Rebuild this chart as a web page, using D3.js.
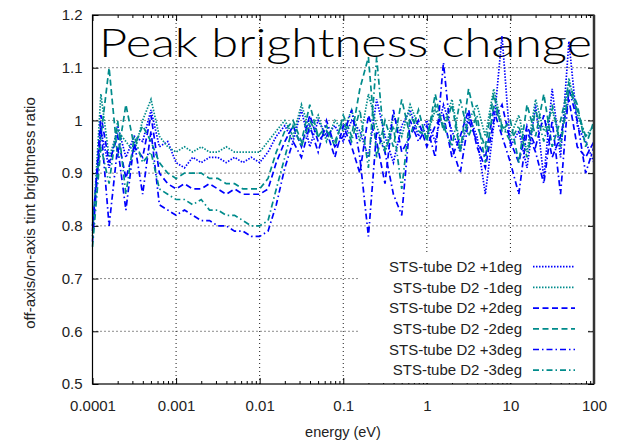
<!DOCTYPE html>
<html>
<head>
<meta charset="utf-8">
<script src="https://cdn.jsdelivr.net/npm/d3@7"></script>
<style>
  body { margin: 0; background: #fff; }
  svg { display: block; }
  text { font-family: "Liberation Sans", Arial, sans-serif; fill: #222; }
</style>
</head>
<body>
<script>
// energy grid (eV), 10 points per decade
var energy = [
  1.00e-4, 1.26e-4, 1.58e-4, 2.00e-4, 2.51e-4, 3.16e-4, 3.98e-4, 5.01e-4, 6.31e-4, 7.94e-4,
  1.00e-3, 1.26e-3, 1.58e-3, 2.00e-3, 2.51e-3, 3.16e-3, 3.98e-3, 5.01e-3, 6.31e-3, 7.94e-3,
  1.00e-2, 1.26e-2, 1.58e-2, 2.00e-2, 2.51e-2, 3.16e-2, 3.98e-2, 5.01e-2, 6.31e-2, 7.94e-2,
  1.00e-1, 1.26e-1, 1.58e-1, 2.00e-1, 2.51e-1, 3.16e-1, 3.98e-1, 5.01e-1, 6.31e-1, 7.94e-1,
  1.00, 1.26, 1.58, 2.00, 2.51, 3.16, 3.98, 5.01, 6.31, 7.94,
  10.0, 12.6, 15.8, 20.0, 25.1, 31.6, 39.8, 50.1, 63.1, 79.4,
  100
];

var plus1 = [
  0.80, 0.98, 0.91, 0.99, 0.93, 0.97, 0.96, 1.02, 0.95, 0.96,
  0.92, 0.91, 0.93, 0.92, 0.93, 0.93, 0.92, 0.93, 0.92, 0.93,
  0.92, 0.94, 0.97, 0.99, 0.96, 1.02, 0.95, 1.00, 0.97, 0.99,
  0.96, 1.00, 0.98, 0.93, 1.04, 0.97, 0.92, 0.99, 1.02, 0.97,
  1.00, 0.96, 1.03, 0.98, 0.94, 1.01, 0.97, 0.86, 0.99, 1.16,
  0.95, 0.98, 0.91, 1.03, 0.89, 1.06, 0.93, 1.15, 0.99, 0.96,
  0.92
];
var minus1 = [
  0.78, 1.05, 0.93, 0.98, 0.96, 0.94, 1.00, 1.04, 0.97, 0.95,
  0.94, 0.95, 0.94, 0.95, 0.94, 0.94, 0.95, 0.94, 0.94, 0.94,
  0.94, 0.96, 0.98, 1.00, 0.97, 1.03, 0.98, 1.01, 0.96, 1.00,
  0.98, 1.02, 0.96, 1.05, 0.99, 0.94, 1.01, 0.97, 1.03, 0.99,
  0.97, 1.02, 0.99, 1.04, 0.95, 1.00, 1.03, 0.97, 1.06, 0.99,
  0.97, 1.01, 0.94, 1.04, 0.98, 1.02, 0.96, 1.08, 1.01, 0.97,
  0.99
];
var plus2 = [
  0.79, 1.01, 0.92, 0.97, 0.89, 0.95, 0.93, 1.01, 0.90, 0.88,
  0.87, 0.88, 0.87, 0.87, 0.88, 0.87, 0.86, 0.87, 0.86, 0.86,
  0.86, 0.87, 0.92, 0.96, 0.99, 0.95, 1.01, 0.96, 0.98, 0.93,
  0.99, 0.95, 0.90, 1.01, 0.96, 0.88, 1.02, 0.94, 0.97, 1.00,
  0.95, 0.99, 1.01, 0.93, 0.97, 1.02, 0.95, 0.91, 1.00, 1.03,
  0.96, 0.92, 0.99, 0.95, 1.01, 0.93, 0.97, 1.04, 0.95, 0.93,
  0.96
];
var minus2 = [
  0.80, 0.97, 1.10, 0.93, 1.03, 0.95, 0.99, 0.96, 0.92, 0.90,
  0.89, 0.90, 0.90, 0.90, 0.89, 0.89, 0.88, 0.88, 0.87, 0.87,
  0.87, 0.89, 0.94, 0.98, 1.00, 0.96, 1.03, 0.97, 0.99, 0.95,
  1.01, 0.97, 1.06, 1.12, 0.93, 1.00, 0.95, 1.04, 0.97, 1.02,
  0.96, 1.05, 0.98, 1.03, 0.94, 1.06, 0.99, 0.95, 1.05, 0.98,
  1.00, 0.92, 1.03, 0.97, 1.05, 0.95, 1.00, 1.07, 1.03, 0.95,
  1.00
];
var plus3 = [
  0.77, 0.99, 0.80, 0.95, 0.83, 0.96, 0.86, 0.98, 0.84, 0.83,
  0.82, 0.83, 0.82, 0.81, 0.81, 0.80, 0.80, 0.79, 0.79, 0.78,
  0.78, 0.79, 0.84, 0.91, 0.96, 0.93, 0.99, 0.94, 1.00, 0.95,
  0.97, 1.02, 0.93, 0.78, 0.98, 0.94, 0.86, 0.82, 1.00, 0.96,
  0.99, 0.93, 1.11, 0.95, 0.90, 1.00, 0.96, 0.93, 1.02, 0.97,
  0.92, 0.86, 0.98, 0.94, 0.88, 1.00, 0.86, 1.06, 1.00, 0.90,
  0.95
];
var minus3 = [
  0.76, 0.95, 0.88, 1.00, 0.86, 0.97, 0.92, 0.94, 0.87, 0.86,
  0.85, 0.85, 0.84, 0.85, 0.83, 0.83, 0.82, 0.82, 0.81, 0.80,
  0.80, 0.81, 0.87, 0.93, 0.99, 0.95, 1.00, 0.97, 0.98, 0.96,
  1.00, 0.96, 1.02, 0.91, 1.12, 0.94, 0.99, 0.87, 1.01, 0.98,
  0.97, 1.03, 0.99, 0.95, 1.04, 0.97, 1.01, 0.92, 1.03, 0.99,
  0.96, 0.99, 0.93, 1.02, 0.96, 1.03, 0.95, 1.06, 1.02, 0.97,
  0.98
];

var seriesNames = ["STS-tube D2 +1deg", "STS-tube D2 -1deg", "STS-tube D2 +2deg",
                   "STS-tube D2 -2deg", "STS-tube D2 +3deg", "STS-tube D2 -3deg"];
var seriesValues = [plus1, minus1, plus2, minus2, plus3, minus3];

var xTicks = [1e-4, 1e-3, 1e-2, 1e-1, 1, 10, 100];
var xTickLabels = ["0.0001", "0.001", "0.01", "0.1", "1", "10", "100"];
var yTicks = [0.5, 0.6, 0.7, 0.8, 0.9, 1.0, 1.1, 1.2];
var yTickLabels = ["0.5", "0.6", "0.7", "0.8", "0.9", "1", "1.1", "1.2"];

var colors = ["#0000ff", "#008b8b", "#0000ff", "#008b8b", "#0000ff", "#008b8b"];
var dashes = ["1.5,1.5", "1.5,1.5", "6,3.5", "6,3.5", "6,3,1.5,3", "6,3,1.5,3"];

var W = 629, H = 441;
var pL = 92.5, pR = 594, pT = 15, pB = 384; // plot box

var svg = d3.select('body').append('svg')
    .attr('width', W)
    .attr('height', H);

var x = d3.scaleLog().domain([1e-4, 100]).range([pL, pR]);
var y = d3.scaleLinear().domain([0.5, 1.2]).range([pB, pT]);

// grid
var grid = svg.append('g').attr('class', 'grid')
    .attr('stroke', '#000')
    .attr('stroke-width', 0.9)
    .attr('stroke-dasharray', '1,3');
grid.selectAll('.gx').data(xTicks.slice(1, -1)).enter().append('line')
    .attr('x1', d => x(d)).attr('x2', d => x(d))
    .attr('y1', pT).attr('y2', pB);
grid.selectAll('.gy').data(yTicks.slice(1, -1)).enter().append('line')
    .attr('x1', pL).attr('x2', pR)
    .attr('y1', d => y(d)).attr('y2', d => y(d));

// axes
var minor = x.ticks().filter(t => xTicks.indexOf(t) < 0);

function styleAxis(g){
    g.select('.domain').remove();
    g.selectAll('line').attr('stroke', '#000');
    g.selectAll('text').attr('font-size', '15px').style('fill', '#222');
}

svg.append('g').attr('transform', 'translate(0,' + pB + ')')
    .call(d3.axisBottom(x).tickValues(xTicks).tickSize(-6).tickPadding(16)
        .tickFormat((d, i) => xTickLabels[i]))
    .call(styleAxis);
svg.append('g').attr('transform', 'translate(0,' + pB + ')')
    .call(d3.axisBottom(x).tickValues(minor).tickSize(-3).tickFormat(''))
    .call(styleAxis);
svg.append('g').attr('transform', 'translate(0,' + pT + ')')
    .call(d3.axisTop(x).tickValues(xTicks).tickSize(-6).tickFormat(''))
    .call(styleAxis);
svg.append('g').attr('transform', 'translate(0,' + pT + ')')
    .call(d3.axisTop(x).tickValues(minor).tickSize(-3).tickFormat(''))
    .call(styleAxis);
svg.append('g').attr('transform', 'translate(' + pL + ',0)')
    .call(d3.axisLeft(y).tickValues(yTicks).tickSize(-6).tickPadding(10)
        .tickFormat((d, i) => yTickLabels[i]))
    .call(styleAxis);
svg.append('g').attr('transform', 'translate(' + pR + ',0)')
    .call(d3.axisRight(y).tickValues(yTicks).tickSize(-6).tickFormat(''))
    .call(styleAxis);

// title inside the plot (font set with style so the css rule does not win)
svg.append('text')
    .attr('x', 99)
    .attr('y', 57)
    .attr('textLength', 493)
    .attr('lengthAdjust', 'spacingAndGlyphs')
    .style('font-family', 'Lato, "Open Sans", sans-serif')
    .style('font-weight', 300)
    .style('font-size', '40px')
    .style('fill', '#000')
    .text('Peak brightness change');

// data lines
var line = d3.line()
    .x((d, i) => x(energy[i]))
    .y(d => y(d));

svg.append('g').attr('class', 'lines')
    .selectAll('path')
    .data(seriesValues)
    .enter()
    .append('path')
    .attr('d', d => line(d))
    .attr('fill', 'none')
    .attr('stroke', (d, i) => colors[i])
    .attr('stroke-width', 1.7)
    .attr('stroke-dasharray', (d, i) => dashes[i]);

// opaque legend
svg.append('rect')
    .attr('x', 360).attr('y', 252)
    .attr('width', 226).attr('height', 131)
    .attr('fill', '#fff');

var legend = svg.append('g').attr('class', 'legend')
    .selectAll('g')
    .data(seriesNames)
    .enter()
    .append('g')
    .attr('transform', (d, i) => 'translate(0,' + (266.7 + i * 20.7) + ')');
legend.append('text')
    .attr('x', 522)
    .attr('dy', '0.35em')
    .attr('text-anchor', 'end')
    .attr('font-size', '15px')
    .text(d => d);
legend.append('line')
    .attr('x1', 533).attr('x2', 575)
    .attr('stroke', (d, i) => colors[i])
    .attr('stroke-width', 1.7)
    .attr('stroke-dasharray', (d, i) => dashes[i]);

// frame
svg.append('rect')
    .attr('x', pL).attr('y', pT)
    .attr('width', pR - pL).attr('height', pB - pT)
    .attr('fill', 'none')
    .attr('stroke', '#000')
    .attr('stroke-width', 1.2);
svg.append('line')
    .attr('x1', pR).attr('x2', pR).attr('y1', pT).attr('y2', pB)
    .attr('stroke', '#333').attr('stroke-width', 2.5);

// axis titles
svg.append('text')
    .attr('x', 343)
    .attr('y', 437)
    .attr('text-anchor', 'middle')
    .attr('font-size', '14.5px')
    .text('energy (eV)');
svg.append('text')
    .attr('transform', 'translate(35,213) rotate(-90)')
    .attr('text-anchor', 'middle')
    .attr('font-size', '15px')
    .text('off-axis/on-axis tint brightness ratio');
</script>
</body>
</html>
